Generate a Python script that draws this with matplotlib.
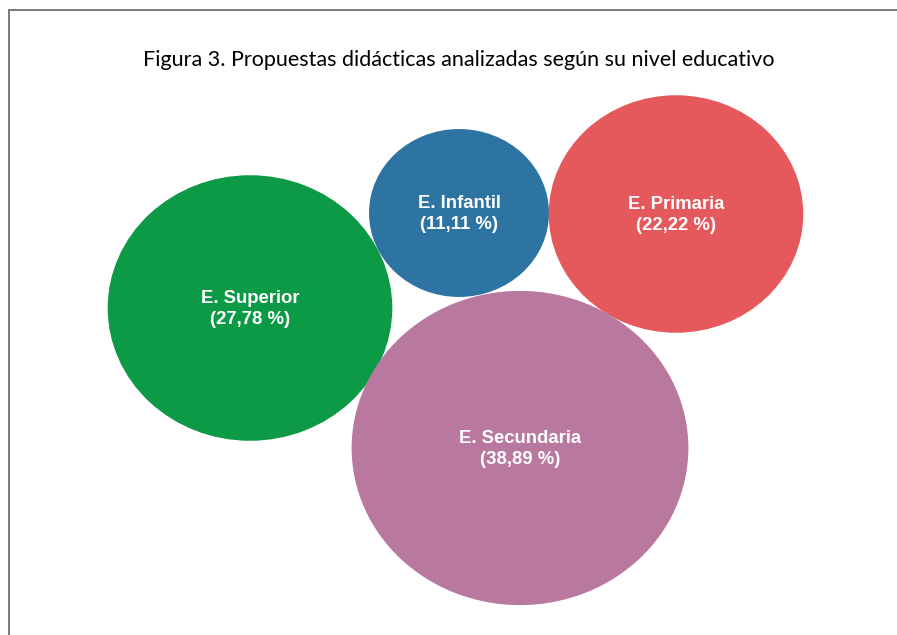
import matplotlib
matplotlib.use("Agg")
import matplotlib.pyplot as plt
from matplotlib.patches import Ellipse
import numpy as np

# data
niveles = ["E. Infantil", "E. Primaria", "E. Superior", "E. Secundaria"]
porcentajes = [11.11, 22.22, 27.78, 38.89]
colores = ["#2e74a2", "#e5585b", "#0c9a47", "#b9789e"]

# layout (pixel space of the 897x635 canvas)
centros = [(459, 213), (676, 214), (250, 308), (520, 448)]
ESCALA = 27.0      # radius in px per sqrt(%)
ASPECTO = 0.933    # bubbles are slightly squashed vertically

fig = plt.figure(figsize=(8.97, 6.35), dpi=100, facecolor="white")
ax = fig.add_axes([0, 0, 1, 1])
ax.set_xlim(0, 897); ax.set_ylim(635, 0)
ax.axis("off")

# frame: only top and left edges are visible in the crop
ax.plot([8.5, 8.5, 897], [635, 9.5, 9.5], color="#6e6e6e", lw=1.3,
        solid_joinstyle="miter")

ax.text(459, 60, "Figura 3. Propuestas didácticas analizadas según su nivel educativo",
        ha="center", va="center", fontsize=15.5, family="Lato", color="#000000")

for nombre, p, c, (cx, cy) in zip(niveles, porcentajes, colores, centros):
    r = ESCALA * np.sqrt(p)
    ax.add_patch(Ellipse((cx, cy), 2 * r, 2 * r * ASPECTO, facecolor=c, edgecolor="none"))
    pct = f"{p:.2f}".replace(".", ",")
    ax.text(cx, cy + 1, f"{nombre}\n({pct} %)", ha="center", va="center", color="white",
            fontsize=13.3, fontweight="bold", family="Liberation Sans", linespacing=1.3)

fig.savefig("out.png", dpi=100, facecolor="white")
